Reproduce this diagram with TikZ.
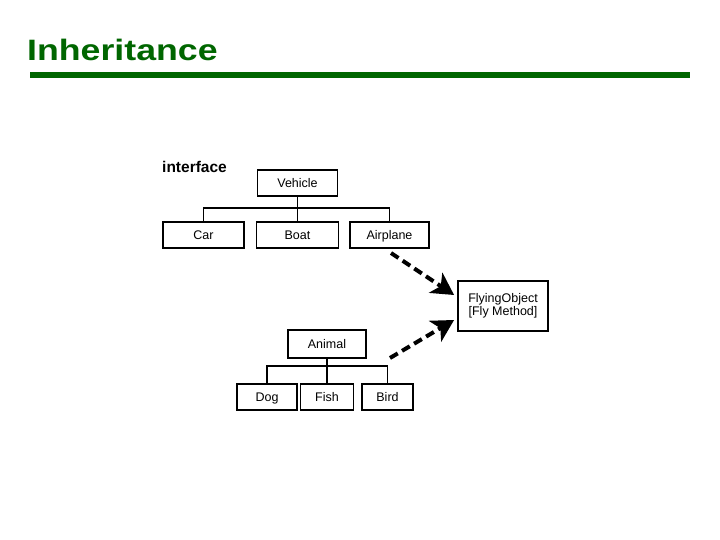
\documentclass[tikz,border=0pt]{standalone}
\usepackage{fontspec}
\setmainfont{Liberation Sans}
\usetikzlibrary{calc,arrows.meta}
\definecolor{titlegreen}{RGB}{0,102,0}

\tikzset{
  classbox/.style={draw=black, line width=1.8pt, fill=white, inner sep=0pt,
    minimum height=26pt, text height=11pt, text depth=2pt,
    font=\fontsize{12.5}{14}\selectfont},
  link/.style={line width=1.8pt},
  implements/.style={line width=4pt, dash pattern=on 9pt off 5pt,
    -{Stealth[length=22pt, width=24pt, inset=6pt]}}
}

\begin{document}
\begin{tikzpicture}[x=1pt, y=-1pt]
  \useasboundingbox (0, 0) rectangle (720, 540);
  % title and rule
  \node [anchor=base west, inner sep=0pt, text=titlegreen] (title) at (27, 61)
    {\scalebox{1.21}[1]{\fontsize{29.5}{34}\selectfont\bfseries Inheritance}};
  \fill [titlegreen] (30, 72) rectangle (690, 78);
  \node [anchor=west, inner sep=0pt, font=\fontsize{15.5}{18}\selectfont\bfseries] (iface) at (162, 167) {interface};
  % vehicle tree
  \node [classbox, minimum width=80pt] (Vehicle) at (297.5, 183) {Vehicle};
  \node [classbox, minimum width=81pt] (Car) at (203.5, 235) {Car};
  \node [classbox, minimum width=82pt] (Boat) at (297.5, 235) {Boat};
  \node [classbox, minimum width=79pt] (Airplane) at (389.5, 235) {Airplane};
  \draw [link] (Vehicle.south) -- (Boat.north);
  \draw [link] (Car.north) -- ++(0, -13) -| (Airplane.north);
  % animal tree
  \node [classbox, minimum width=78pt, minimum height=28pt] (Animal) at (327, 344) {Animal};
  \node [classbox, minimum width=60pt] (Dog) at (267, 397) {Dog};
  \node [classbox, minimum width=53pt] (Fish) at (327, 397) {Fish};
  \node [classbox, minimum width=51pt] (Bird) at (387.5, 397) {Bird};
  \draw [link] (Animal.south) -- (Fish.north);
  \draw [link] (Dog.north) -- ++(0, -17) -| (Bird.north);
  % interface
  \node [classbox, minimum width=90pt, minimum height=50pt, text height=, text depth=, align=center] (Flying) at (503, 306)
    {FlyingObject\\[-1pt][Fly Method]};
  \coordinate (upstart) at (391, 253);
  \coordinate (lowstart) at (390, 358);
  \draw [implements] (upstart) -- ($(Flying.west)+(-3, -11)$);
  \draw [implements] (lowstart) -- ($(Flying.west)+(-3, 14)$);
\end{tikzpicture}
\end{document}
